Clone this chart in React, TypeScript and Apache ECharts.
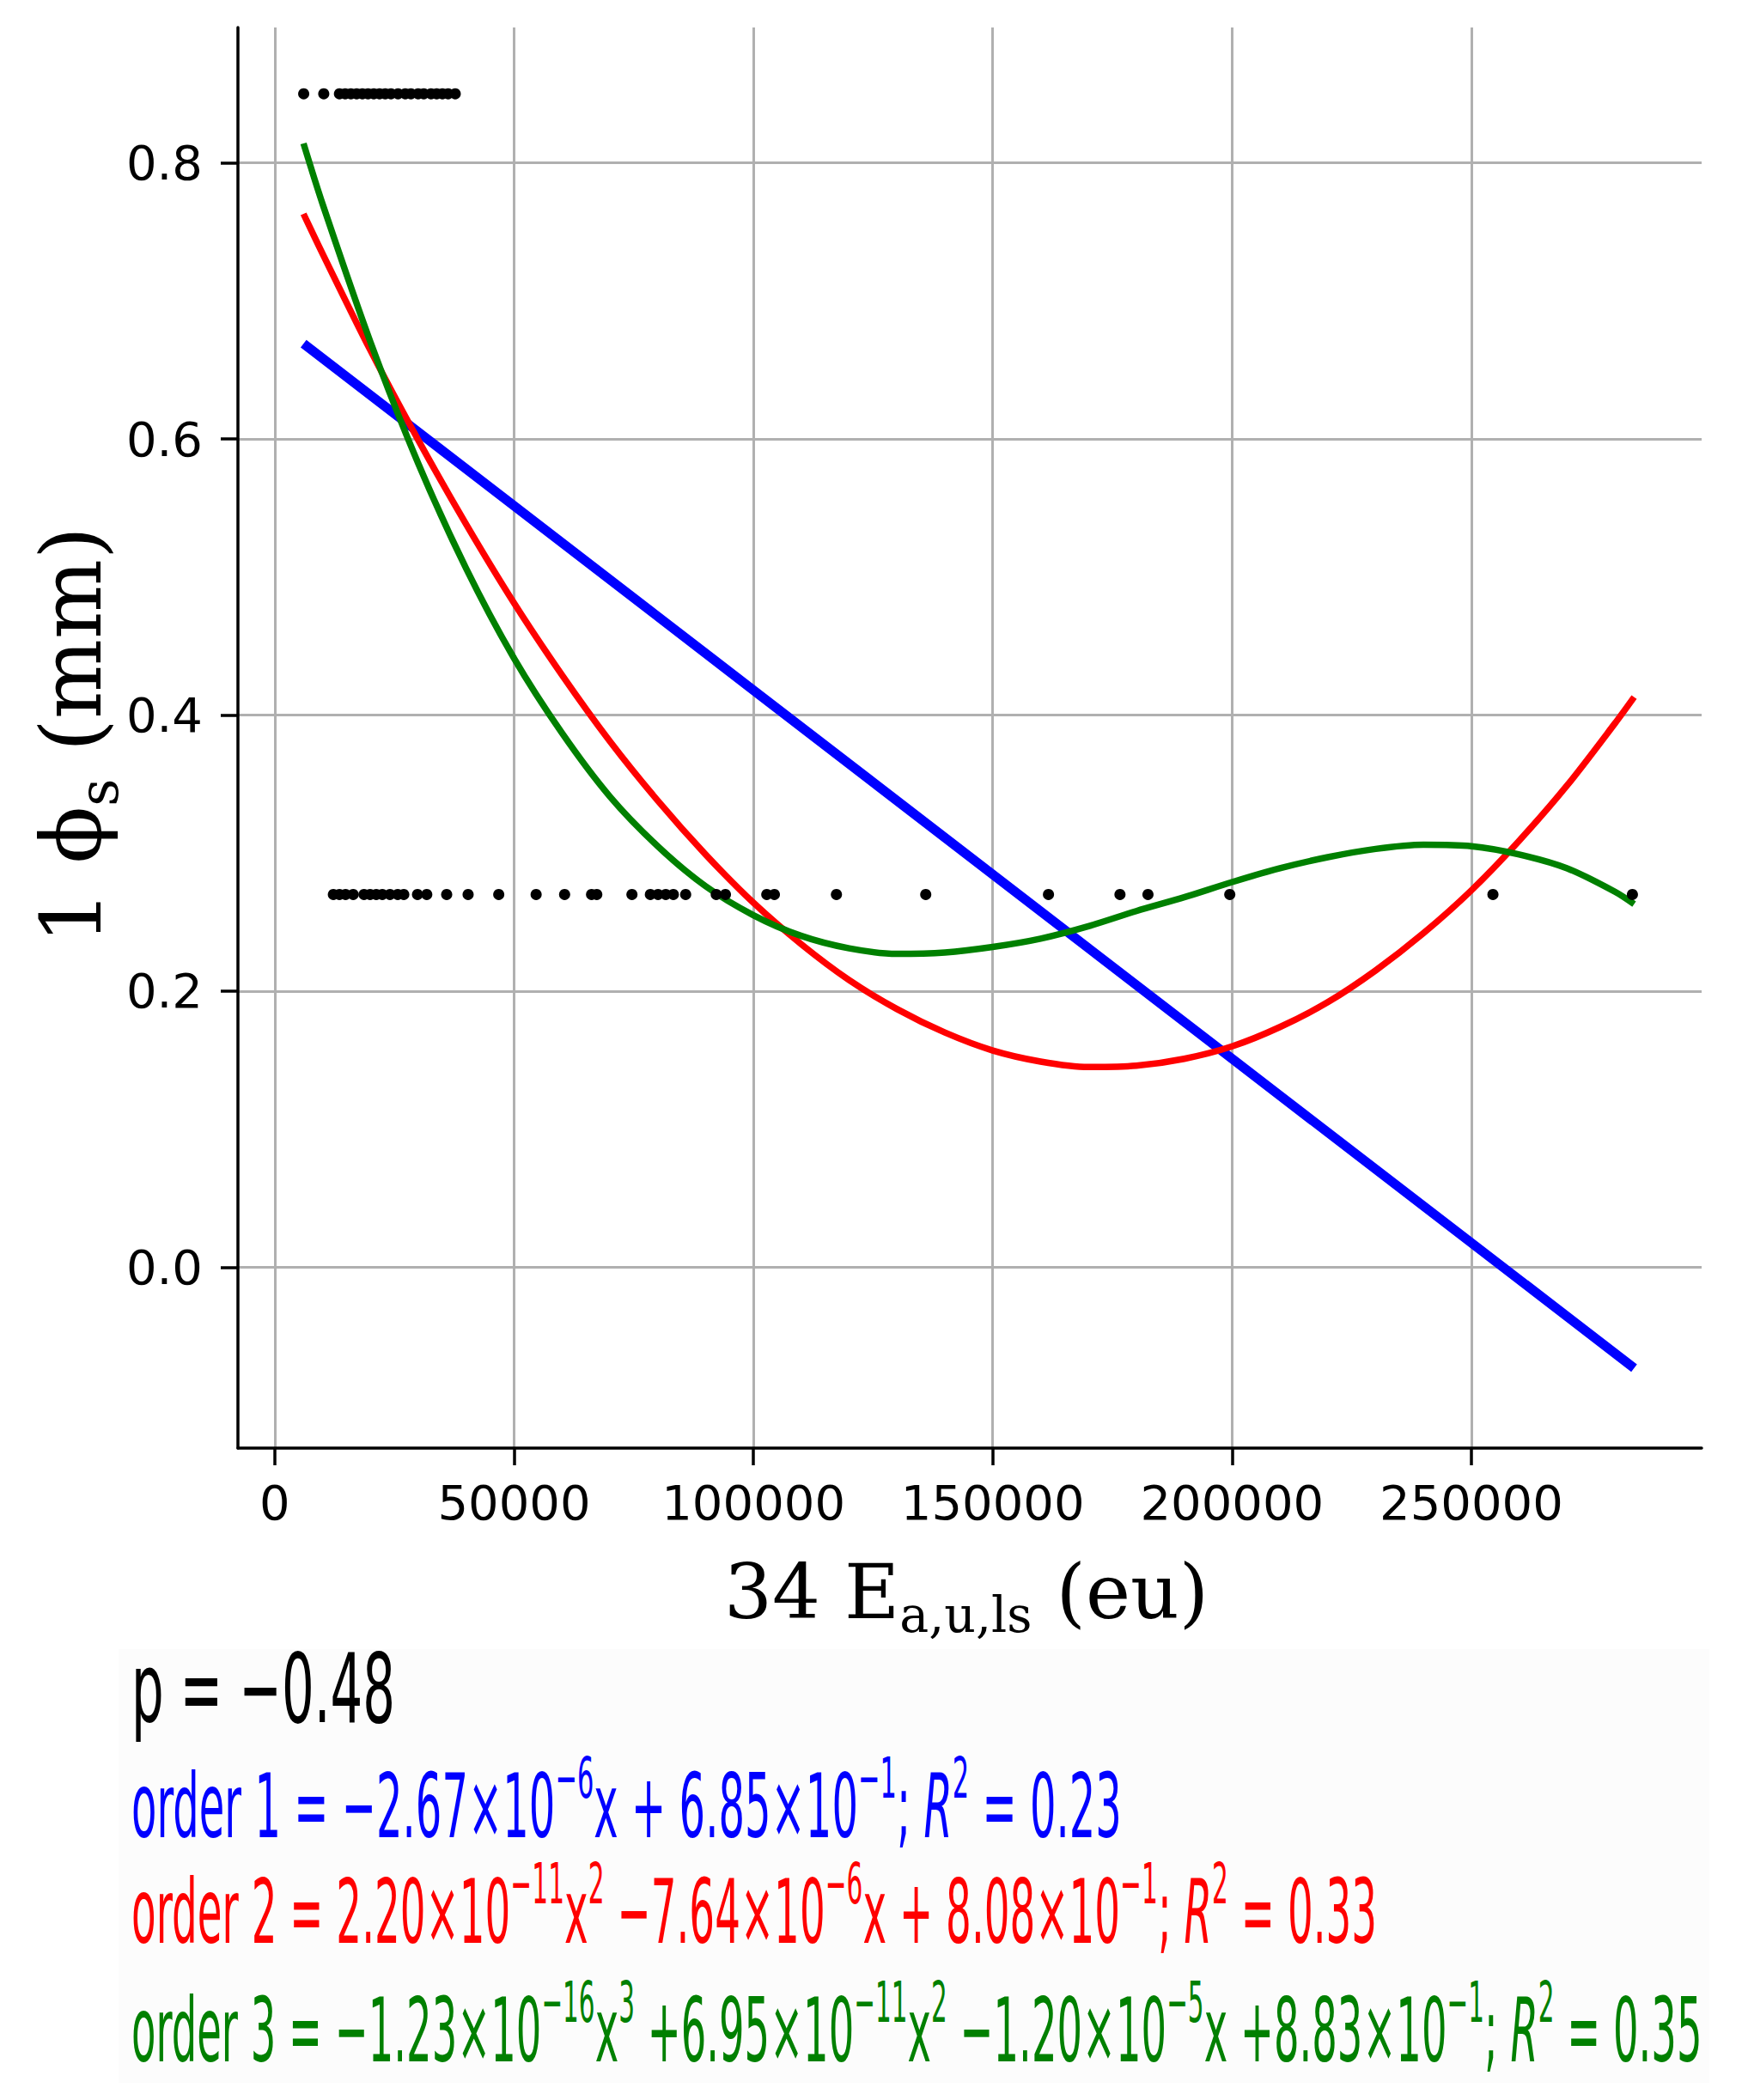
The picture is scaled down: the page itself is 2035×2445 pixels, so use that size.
import React, { useEffect, useRef } from 'react';
import * as echarts from 'echarts';

// Axis ticks
const xTicks = [0, 50000, 100000, 150000, 200000, 250000];
const yTicks = [0, 0.2, 0.4, 0.6, 0.8];

// Observations (two levels of the response)
const upperY = 0.85;
const upperX = [6040, 10230, 13510, 14710, 15900, 17100, 18300, 19480, 20680, 21880, 23070, 24270, 25750, 27260, 28440, 29950, 31130, 32640, 33820, 35020, 36220, 37700];
const lowerY = 0.27;
const lowerX = [12240, 13510, 14790, 16380, 18640, 19910, 21200, 22470, 24070, 25680, 26950, 29820, 31750, 35910, 40390, 46790, 54600, 60550, 66180, 67270, 74620, 78470, 80070, 81680, 83270, 85840, 92230, 94150, 102790, 104380, 117340, 136000, 161640, 176580, 182430, 199520, 254500, 283640];

// Fitted curves
const fit1X = [6000, 100000, 200000, 284000];
const order1 = [0.669, 0.418, 0.151, -0.073];
const fitX = [6000, 10000, 20000, 30000, 40000, 50000, 60000, 70000, 80000, 90000, 100000, 110000, 120000, 130000, 140000, 150000, 160000, 170000, 180000, 190000, 200000, 210000, 220000, 230000, 240000, 250000, 260000, 270000, 280000, 284000];
const order2 = [0.763, 0.734, 0.664, 0.599, 0.538, 0.481, 0.429, 0.381, 0.338, 0.299, 0.264, 0.234, 0.208, 0.187, 0.170, 0.157, 0.149, 0.145, 0.146, 0.151, 0.160, 0.174, 0.192, 0.215, 0.242, 0.273, 0.309, 0.349, 0.394, 0.413];
const order3 = [0.814, 0.770, 0.670, 0.582, 0.506, 0.441, 0.387, 0.341, 0.305, 0.276, 0.255, 0.240, 0.231, 0.227, 0.228, 0.232, 0.238, 0.247, 0.258, 0.268, 0.279, 0.289, 0.297, 0.303, 0.306, 0.305, 0.299, 0.289, 0.272, 0.263];

const SANS = 'DejaVu Sans';
const SERIF = 'DejaVu Serif';
const BLUE = '#0000ff';
const RED = '#ff0000';
const GREEN = '#008000';
const GRID = '#b0b0b0';

const pair = (xs: number[], ys: number[]) => xs.map((x, i) => [x, ys[i]]);
const row = (xs: number[], y: number) => xs.map((x) => [x, y]);

function eqText(x: number, y: number, text: string, color: string, scaleX: number) {
  const base = { fontFamily: SANS, fontSize: 104, fill: color };
  return {
    type: 'text',
    x,
    y,
    scaleX,
    silent: true,
    z: 10,
    style: {
      text,
      align: 'left',
      verticalAlign: 'middle',
      textAlign: 'left',
      textVerticalAlign: 'middle',
      rich: {
        n: { ...base },
        i: { ...base, fontStyle: 'italic' },
        s: { fontFamily: SANS, fontSize: 66, fill: color, padding: [0, 0, 66, 0] },
      },
    },
  };
}

export default function App() {
  const ref = useRef<HTMLDivElement>(null);
  useEffect(() => {
    const chart = echarts.init(ref.current!, null, { renderer: 'svg' });
    const option: any = {
      animation: false,
      backgroundColor: '#ffffff',
      grid: { left: 277, right: 54, top: 32, bottom: 759, containLabel: false },
      xAxis: {
        type: 'value',
        min: -7700,
        max: 298100,
        z: 20,
        axisLine: { show: true, onZero: false, lineStyle: { color: '#000', width: 3.5 } },
        axisTick: { show: true, inside: false, length: 20, customValues: xTicks, lineStyle: { color: '#000', width: 3.5 } },
        axisLabel: {
          customValues: xTicks,
          margin: 35,
          fontFamily: SANS,
          fontSize: 56,
          color: '#000',
          formatter: (v: number) => String(Math.round(v)),
        },
        splitLine: { show: false },
      },
      yAxis: {
        type: 'value',
        min: -0.131,
        max: 0.898,
        z: 20,
        axisLine: { show: true, onZero: false, lineStyle: { color: '#000', width: 3.5 } },
        axisTick: { show: true, inside: false, length: 20, customValues: yTicks, lineStyle: { color: '#000', width: 3.5 } },
        axisLabel: {
          customValues: yTicks,
          margin: 41,
          fontFamily: SANS,
          fontSize: 56,
          color: '#000',
          formatter: (v: number) => v.toFixed(1),
        },
        splitLine: { show: false },
      },
      series: [
        {
          type: 'line',
          data: [],
          z: 1,
          silent: true,
          markLine: {
            silent: true,
            symbol: 'none',
            label: { show: false },
            lineStyle: { color: GRID, width: 3, type: 'solid' },
            emphasis: { disabled: true },
            data: [
              ...xTicks.map((v) => ({ xAxis: v })),
              ...yTicks.map((v) => ({ yAxis: v })),
            ],
          },
        },
        {
          type: 'scatter',
          data: row(upperX, upperY),
          symbolSize: 13,
          itemStyle: { color: '#000', opacity: 1 },
          z: 12,
        },
        {
          type: 'scatter',
          data: row(lowerX, lowerY),
          symbolSize: 13,
          itemStyle: { color: '#000', opacity: 1 },
          z: 12,
        },
        {
          type: 'line',
          data: pair(fit1X, order1),
          showSymbol: false,
          symbol: 'none',
          lineStyle: { color: BLUE, width: 11 },
          z: 11,
        },
        {
          type: 'line',
          data: pair(fitX, order2),
          showSymbol: false,
          symbol: 'none',
          smooth: 0.3,
          lineStyle: { color: RED, width: 7.5 },
          z: 11,
        },
        {
          type: 'line',
          data: pair(fitX, order3),
          showSymbol: false,
          symbol: 'none',
          smooth: 0.3,
          lineStyle: { color: GREEN, width: 7.5 },
          z: 11,
        },
      ],
      graphic: [
        {
          type: 'rect',
          shape: { x: 138, y: 1920, width: 1852, height: 505 },
          style: { fill: '#fcfcfc' },
          silent: true,
          z: 0,
        },
        {
          type: 'text',
          x: 1125,
          y: 1853,
          silent: true,
          style: {
            text: '{n|34 E}{sub|a,u,ls}{n| (eu)}',
            align: 'center',
            verticalAlign: 'middle',
            textAlign: 'center',
            textVerticalAlign: 'middle',
            rich: {
              n: { fontFamily: SERIF, fontSize: 88, fill: '#000' },
              sub: { fontFamily: SERIF, fontSize: 57, fill: '#000', padding: [54, 0, 0, 0] },
            },
          },
        },
        {
          type: 'text',
          x: 83,
          y: 856,
          rotation: Math.PI / 2,
          silent: true,
          style: {
            text: '{n|1 ϕ}{sub|s}{n| (mm)}',
            align: 'center',
            verticalAlign: 'middle',
            textAlign: 'center',
            textVerticalAlign: 'middle',
            rich: {
              n: { fontFamily: SERIF, fontSize: 98, fill: '#000' },
              sub: { fontFamily: SERIF, fontSize: 63, fill: '#000', padding: [64, 0, 0, 0] },
            },
          },
        },
        {
          type: 'text',
          x: 153,
          y: 1966,
          scaleX: 0.53,
          silent: true,
          z: 10,
          style: {
            text: 'p = −0.48',
            fontFamily: SANS,
            fontSize: 112,
            fill: '#000',
            align: 'left',
            verticalAlign: 'middle',
            textAlign: 'left',
            textVerticalAlign: 'middle',
          },
        },
        eqText(153, 2103, '{n|order 1 = −2.67×10}{s|−6}{n|x + 6.85×10}{s|−1}{n|; }{i|R}{s|2}{n| = 0.23}', BLUE, 0.462),
        eqText(153, 2226, '{n|order 2 = 2.20×10}{s|−11}{n|x}{s|2}{n| −7.64×10}{s|−6}{n|x + 8.08×10}{s|−1}{n|; }{i|R}{s|2}{n| = 0.33}', RED, 0.45),
        eqText(153, 2364, '{n|order 3 = −1.23×10}{s|−16}{n|x}{s|3}{n| +6.95×10}{s|−11}{n|x}{s|2}{n| −1.20×10}{s|−5}{n|x +8.83×10}{s|−1}{n|; }{i|R}{s|2}{n| = 0.35}', GREEN, 0.447),
      ],
    };
    chart.setOption(option);
    return () => chart.dispose();
  }, []);
  return (
    <div
      ref={ref}
      style={{ position: 'fixed', left: 0, top: 0, width: 2035, height: 2445, background: '#fff' }}
    />
  );
}
